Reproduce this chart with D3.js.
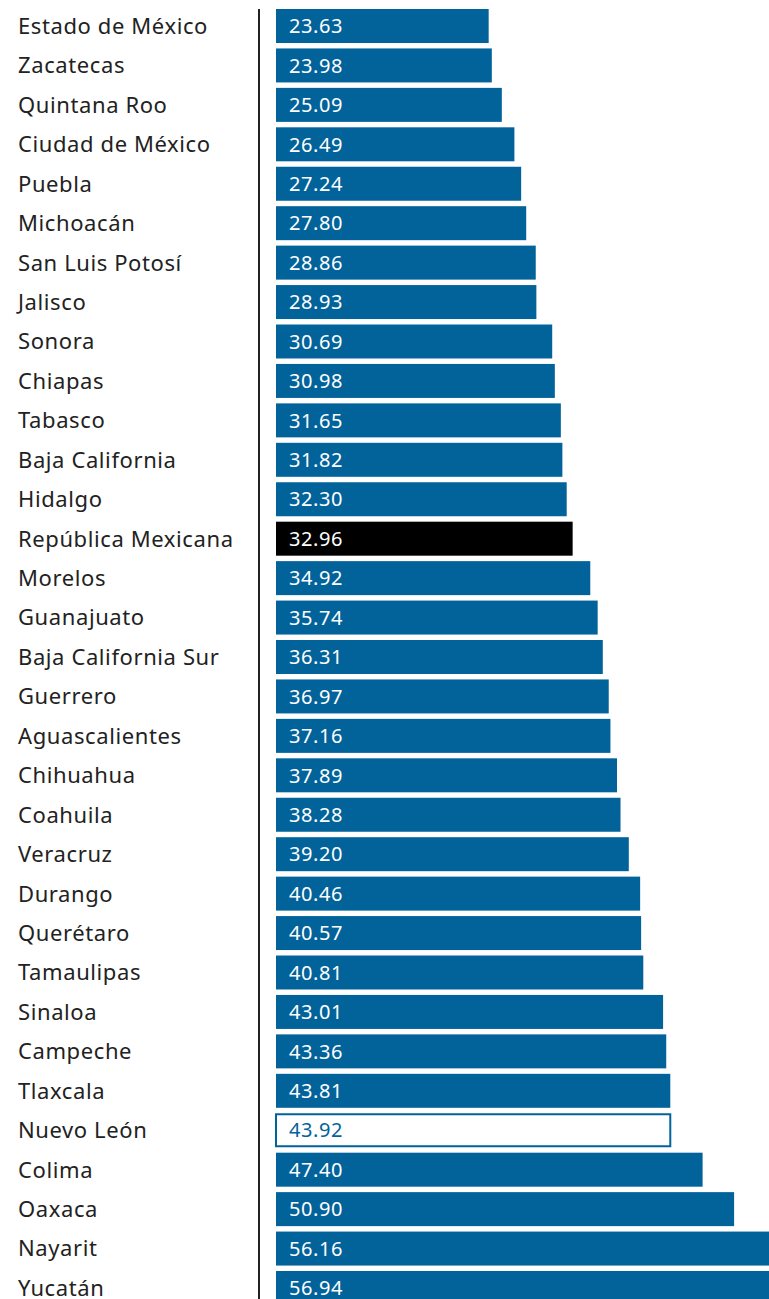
<!DOCTYPE html>
<html lang="es">
<head>
<meta charset="utf-8">
<title>Estados</title>
<script src="https://cdn.jsdelivr.net/npm/d3@7"></script>
<style>
  body { margin: 0; background: #fff; }
  svg { display: block; }
  text { font-family: "Noto Sans", "Open Sans", sans-serif; }
</style>
</head>
<body>
<div id="chart"></div>
<script>
var estados = ["Estado de México", "Zacatecas", "Quintana Roo", "Ciudad de México", "Puebla",
  "Michoacán", "San Luis Potosí", "Jalisco", "Sonora", "Chiapas", "Tabasco", "Baja California",
  "Hidalgo", "República Mexicana", "Morelos", "Guanajuato", "Baja California Sur", "Guerrero",
  "Aguascalientes", "Chihuahua", "Coahuila", "Veracruz", "Durango", "Querétaro", "Tamaulipas",
  "Sinaloa", "Campeche", "Tlaxcala", "Nuevo León", "Colima", "Oaxaca", "Nayarit", "Yucatán"];
var valores = [23.63, 23.98, 25.09, 26.49, 27.24, 27.80, 28.86, 28.93, 30.69, 30.98, 31.65, 31.82,
  32.30, 32.96, 34.92, 35.74, 36.31, 36.97, 37.16, 37.89, 38.28, 39.20, 40.46, 40.57, 40.81,
  43.01, 43.36, 43.81, 43.92, 47.40, 50.90, 56.16, 56.94];
var nacional = "República Mexicana";
var destacado = "Nuevo León";

var w = 769, h = 1299;
var azul = "#02639b";

var data = estados.map(function(d, i) { return { nombre: d, valor: valores[i] }; });

var x = d3.scaleLinear().domain([0, 10]).range([276, 366]);
var y = d3.scaleBand()
  .domain(estados)
  .range([9, 1305])
  .paddingInner(0.138)
  .paddingOuter(0);

var svg = d3.select("#chart").append("svg").attr("width", w).attr("height", h);

svg.selectAll("rect.bar")
  .data(data)
  .enter()
  .append("rect")
  .attr("class", "bar")
  .attr("x", x(0))
  .attr("y", function(d) { return d.nombre == destacado ? y(d.nombre) + 1 : y(d.nombre); })
  .attr("width", function(d) { return d.nombre == destacado ? x(d.valor) - x(0) - 1 : x(d.valor) - x(0); })
  .attr("height", function(d) { return d.nombre == destacado ? y.bandwidth() - 2 : y.bandwidth(); })
  .attr("fill", function(d) {
    if (d.nombre == nacional) return "#000";
    if (d.nombre == destacado) return "#fff";
    return azul;
  })
  .attr("stroke", function(d) { return d.nombre == destacado ? azul : "none"; })
  .attr("stroke-width", 2);

svg.selectAll("text.valor")
  .data(data)
  .enter()
  .append("text")
  .attr("class", "valor")
  .attr("x", x(0) + 13)
  .attr("y", function(d) { return y(d.nombre) + y.bandwidth() / 2; })
  .attr("dy", "0.36em")
  .attr("font-size", 20)
  .attr("letter-spacing", 0.6)
  .attr("fill", function(d) { return d.nombre == destacado ? azul : "#fff"; })
  .text(function(d) { return d.valor.toFixed(2); });

svg.selectAll("text.nombre")
  .data(data)
  .enter()
  .append("text")
  .attr("class", "nombre")
  .attr("x", 18)
  .attr("y", function(d) { return y(d.nombre) + y.bandwidth() / 2; })
  .attr("dy", "0.36em")
  .attr("font-size", 22)
  .attr("letter-spacing", 0.6)
  .attr("fill", "#222")
  .text(function(d) { return d.nombre; });

// eje vertical
svg.append("line")
  .attr("x1", 259).attr("x2", 259)
  .attr("y1", 9).attr("y2", h)
  .attr("stroke", "#222")
  .attr("stroke-width", 2);
</script>
</body>
</html>
